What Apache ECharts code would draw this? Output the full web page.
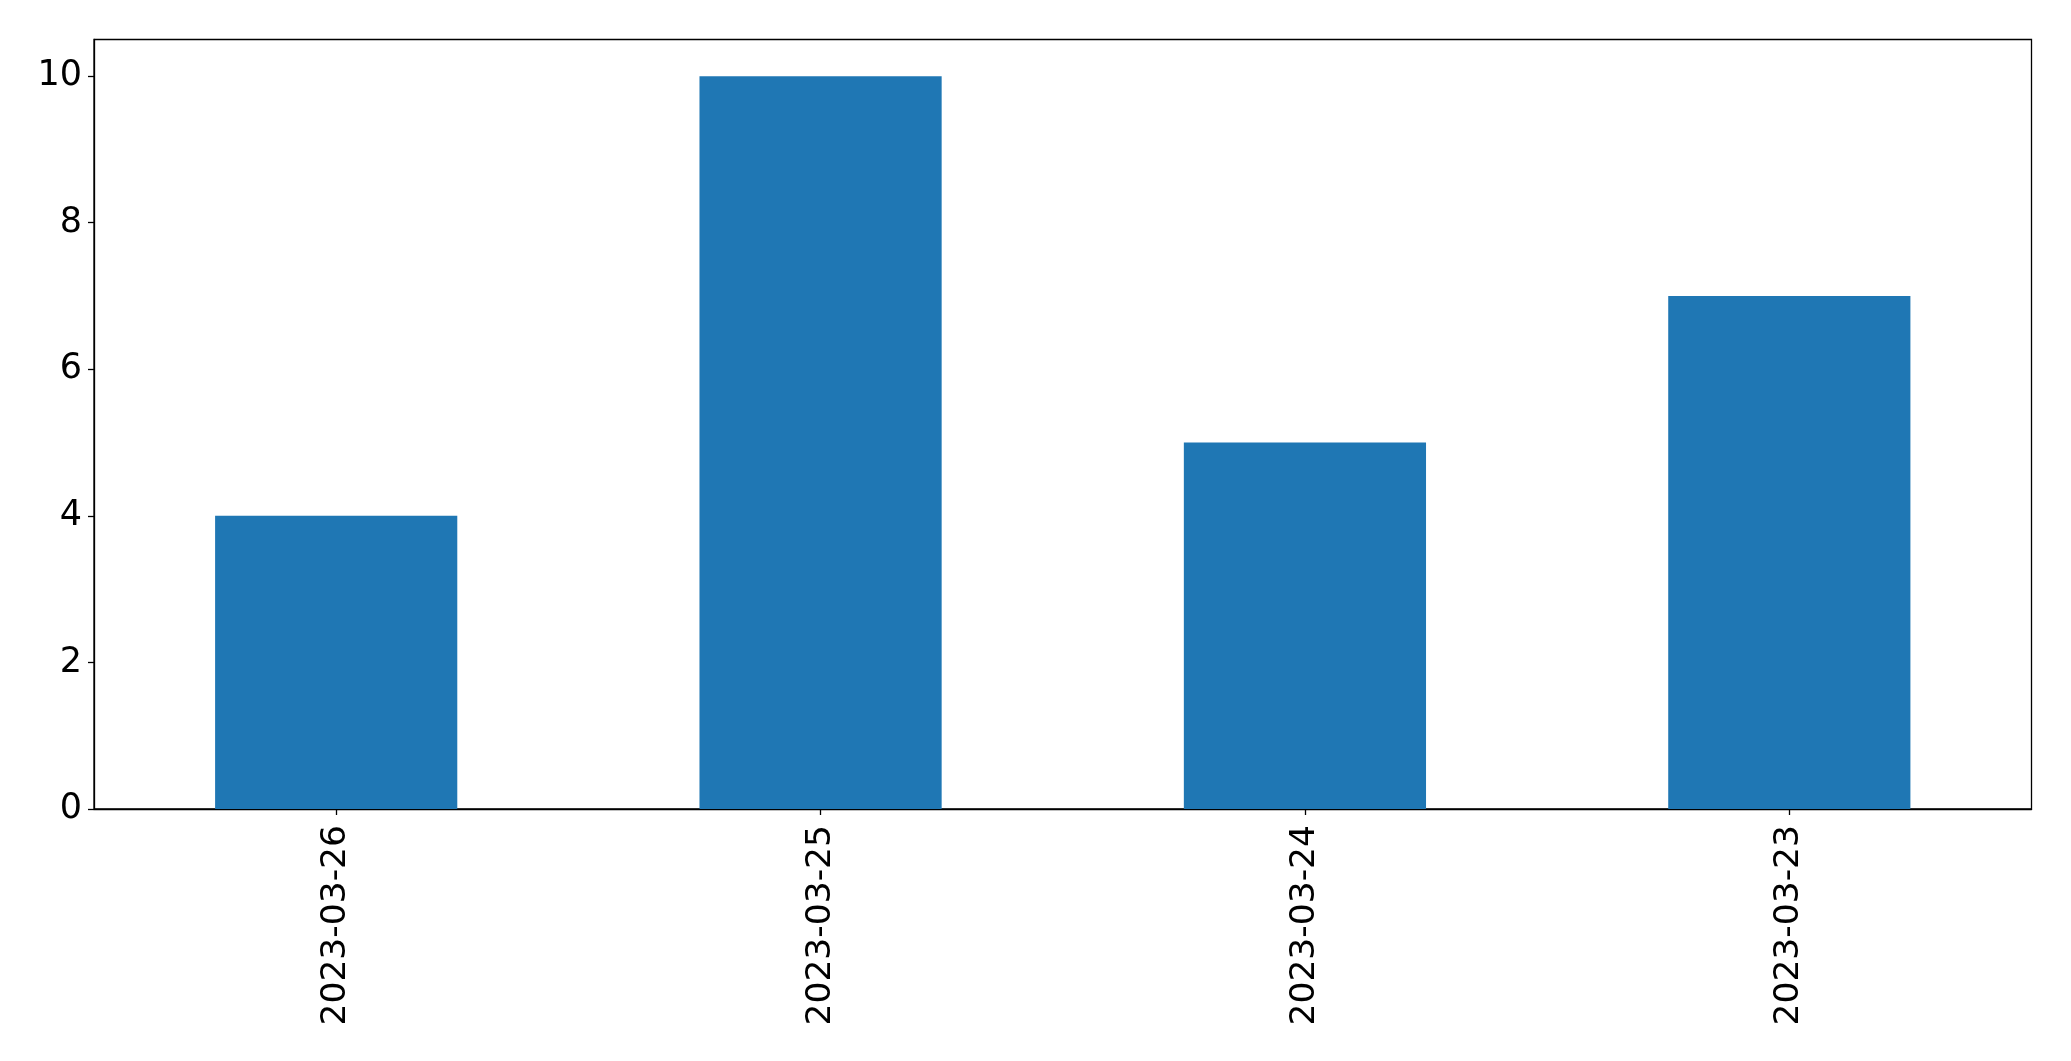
<!DOCTYPE html>
<html>
<head>
<meta charset="utf-8">
<script src="https://cdn.jsdelivr.net/npm/echarts@6/dist/echarts.min.js"></script>
<style>html,body{margin:0;padding:0;background:#fff;}#c{width:2071px;height:1061px;}</style>
</head>
<body>
<div id="c"></div>
<script>
const categories = ["2023-03-26", "2023-03-25", "2023-03-24", "2023-03-23"];
const values = [4, 10, 5, 7];
const yTicks = [0, 2, 4, 6, 8, 10];

const chart = echarts.init(document.getElementById('c'), null, {renderer: 'canvas'});
const font = 'DejaVu Sans';
chart.setOption({
  animation: false,
  backgroundColor: '#ffffff',
  grid: {left: 94, right: 39.5, top: 39.5, bottom: 252, show: true, borderColor: '#000', borderWidth: 1.3, backgroundColor: 'transparent'},
  xAxis: {
    type: 'category',
    data: categories,
    axisLine: {show: true, lineStyle: {color: '#000', width: 1.3}},
    axisTick: {show: true, alignWithLabel: true, length: 6, lineStyle: {color: '#000', width: 1.3}},
    axisLabel: {rotate: 90, fontFamily: font, fontSize: 34.5, color: '#000', margin: 16, interval: 0},
    splitLine: {show: false}
  },
  yAxis: {
    type: 'value',
    min: 0, max: 10.5, interval: 2,
    axisLine: {show: true, lineStyle: {color: '#000', width: 1.3}},
    axisTick: {show: true, length: 6, customValues: yTicks, lineStyle: {color: '#000', width: 1.3}},
    axisLabel: {fontFamily: font, fontSize: 35, color: '#000', margin: 12, customValues: yTicks},
    splitLine: {show: false}
  },
  series: [{
    type: 'bar',
    data: values,
    barWidth: '50%',
    itemStyle: {color: '#1f77b4'}
  }]
});
</script>
</body>
</html>
